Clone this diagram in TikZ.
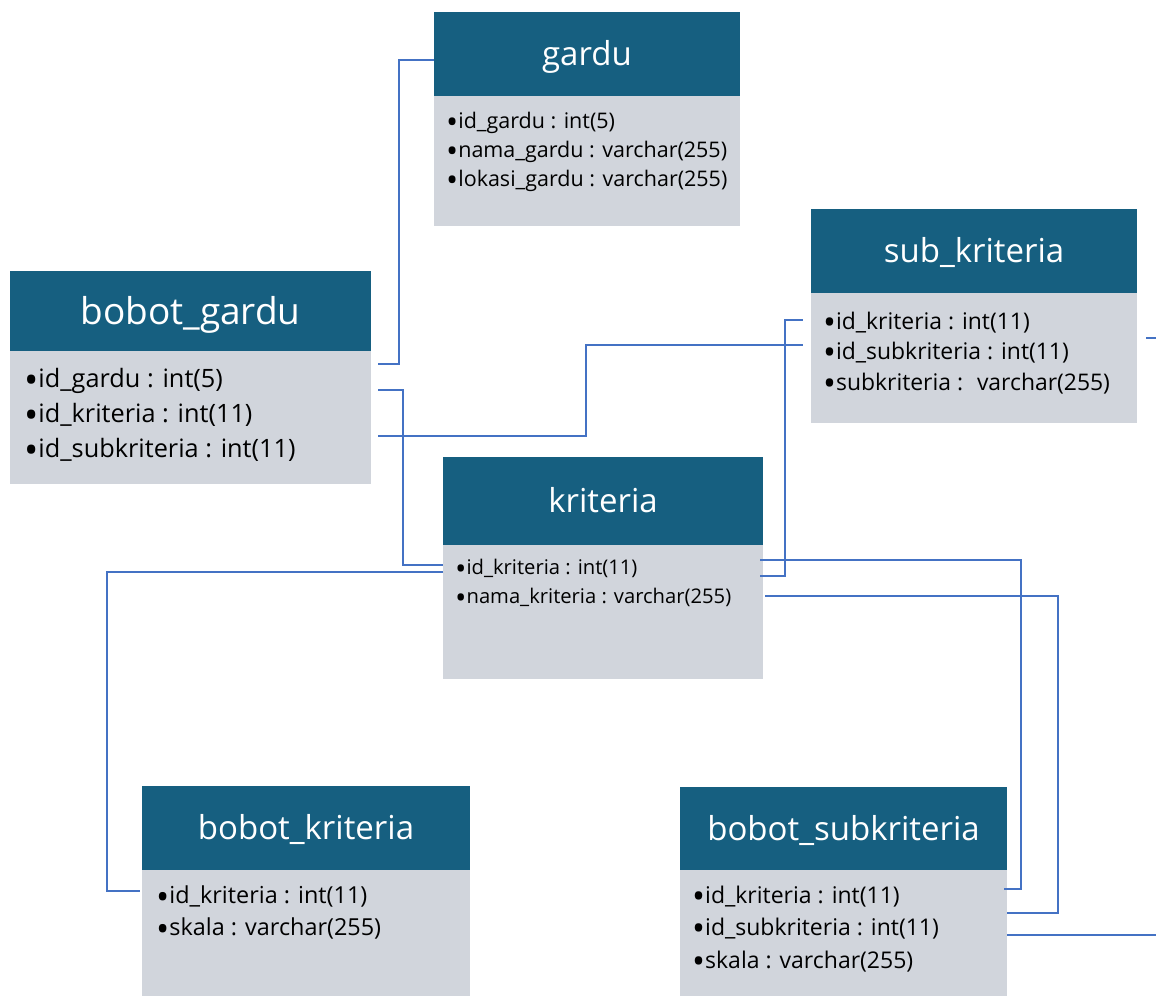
\documentclass[tikz,border=0pt]{standalone}
\usepackage{fontspec}
\setmainfont{Open Sans}
\usetikzlibrary{positioning}

\definecolor{headblue}{HTML}{165F80}
\definecolor{bodygray}{HTML}{D1D5DC}
\definecolor{linkblue}{HTML}{4472C4}

% a heavier list bullet
\newcommand{\fbul}{\smash{\raisebox{-0.24em}{\scalebox{1.5}{•}}}}

\tikzset{
  tblhead/.style={fill=headblue, text=white, inner sep=0pt, text height=30pt, text depth=7pt,
    font=\fontsize{33}{36}\selectfont},
  tblbody/.style={fill=bodygray, inner sep=0pt},
  field/.style={anchor=west, inner sep=0pt, text=black, yshift=-2.5pt},
  link/.style={draw=linkblue, line width=1.3pt},
}

\begin{document}
\begin{tikzpicture}[x=1pt, y=-1pt]
  \useasboundingbox (0,0) rectangle (1156,996);

  % gardu
  \node[tblhead, minimum width=306pt, minimum height=84pt] (gardu) at (587,54) {gardu};
  \node[tblbody, minimum width=306pt, minimum height=130pt, below=0pt of gardu] (gardu-body) {};
  \node[field, font=\fontsize{21.5}{24}\selectfont] (gardu-f1) at (446,120) {\fbul id\_gardu : int(5)};
  \node[field, font=\fontsize{21.5}{24}\selectfont] (gardu-f2) at (446,149) {\fbul nama\_gardu : varchar(255)};
  \node[field, font=\fontsize{21.5}{24}\selectfont] (gardu-f3) at (446,178) {\fbul lokasi\_gardu : varchar(255)};

  % sub_kriteria
  \node[tblhead, minimum width=326pt, minimum height=84pt] (subkrit) at (974,251) {sub\_kriteria};
  \node[tblbody, minimum width=326pt, minimum height=130pt, below=0pt of subkrit] (subkrit-body) {};
  \node[field, font=\fontsize{22.9}{26}\selectfont] (subkrit-f1) at (823,320) {\fbul id\_kriteria : int(11)};
  \node[field, font=\fontsize{22.9}{26}\selectfont] (subkrit-f2) at (823,350) {\fbul id\_subkriteria : int(11)};
  \node[field, font=\fontsize{22.9}{26}\selectfont] (subkrit-f3) at (823,381) {\fbul subkriteria : \ varchar(255)};

  % bobot_gardu
  \node[tblhead, font=\fontsize{37}{40}\selectfont, text height=34pt, text depth=7pt,
    minimum width=361pt, minimum height=80pt] (bgardu) at (190.5,311) {bobot\_gardu};
  \node[tblbody, minimum width=361pt, minimum height=133pt, below=0pt of bgardu] (bgardu-body) {};
  \node[field, font=\fontsize{25.3}{28}\selectfont] (bgardu-f1) at (24,378) {\fbul id\_gardu : int(5)};
  \node[field, font=\fontsize{25.3}{28}\selectfont] (bgardu-f2) at (24,412) {\fbul id\_kriteria : int(11)};
  \node[field, font=\fontsize{25.3}{28}\selectfont] (bgardu-f3) at (24,447) {\fbul id\_subkriteria : int(11)};

  % kriteria
  \node[tblhead, minimum width=320pt, minimum height=88pt] (krit) at (603,501) {kriteria};
  \node[tblbody, minimum width=320pt, minimum height=134pt, below=0pt of krit] (krit-body) {};
  \node[field, font=\fontsize{20.2}{23}\selectfont] (krit-f1) at (455,566) {\fbul id\_kriteria : int(11)};
  \node[field, font=\fontsize{20.2}{23}\selectfont] (krit-f2) at (455,595) {\fbul nama\_kriteria : varchar(255)};

  % bobot_kriteria
  \node[tblhead, minimum width=328pt, minimum height=84pt] (bkrit) at (306,828) {bobot\_kriteria};
  \node[tblbody, minimum width=328pt, minimum height=126pt, below=0pt of bkrit] (bkrit-body) {};
  \node[field, font=\fontsize{23.4}{26}\selectfont] (bkrit-f1) at (156,894) {\fbul id\_kriteria : int(11)};
  \node[field, font=\fontsize{23.4}{26}\selectfont] (bkrit-f2) at (156,926) {\fbul skala : varchar(255)};

  % bobot_subkriteria
  \node[tblhead, minimum width=327pt, minimum height=83pt] (bsub) at (843.5,828.5) {bobot\_subkriteria};
  \node[tblbody, minimum width=327pt, minimum height=126pt, below=0pt of bsub] (bsub-body) {};
  \node[field, font=\fontsize{23}{26}\selectfont] (bsub-f1) at (692,894) {\fbul id\_kriteria : int(11)};
  \node[field, font=\fontsize{23}{26}\selectfont] (bsub-f2) at (692,926) {\fbul id\_subkriteria : int(11)};
  \node[field, font=\fontsize{23}{26}\selectfont] (bsub-f3) at (692,959) {\fbul skala : varchar(255)};

  % ends of the relation lines
  \coordinate (gardu-in) at (434,60);
  \coordinate (bgardu-out1) at (378,364);
  \coordinate (bgardu-out2) at (378,390);
  \coordinate (bgardu-out3) at (378,436);
  \coordinate (krit-inL1) at (443,565);
  \coordinate (krit-inL2) at (443,572);
  \coordinate (krit-outR1) at (760,560);
  \coordinate (krit-outR2) at (760,576);
  \coordinate (krit-outR3) at (765,596);
  \coordinate (subkrit-in1) at (803,320);
  \coordinate (subkrit-in2) at (803,345);
  \coordinate (subkrit-out) at (1146,338);
  \coordinate (bkrit-in) at (140,891);
  \coordinate (bsub-in1) at (1004,889);
  \coordinate (bsub-in2) at (1007,913);
  \coordinate (bsub-out) at (1007,935);
  \coordinate (edge-top) at (1156,338);
  \coordinate (edge-bottom) at (1156,935);

  % relations
  \draw[link] (bgardu-out1) -- (399,364) -- (399,60) -- (gardu-in);
  \draw[link] (bgardu-out2) -- (403,390) -- (403,565) -- (krit-inL1);
  \draw[link] (bgardu-out3) -- (586,436) -- (586,345) -- (subkrit-in2);
  \draw[link] (krit-outR2) -- (785,576) -- (785,320) -- (subkrit-in1);
  \draw[link] (krit-outR1) -- (1021,560) -- (1021,889) -- (bsub-in1);
  \draw[link] (krit-outR3) -- (1058,596) -- (1058,913) -- (bsub-in2);
  \draw[link] (krit-inL2) -- (107,572) -- (107,891) -- (bkrit-in);
  \draw[link] (bsub-out) -- (edge-bottom);
  \draw[link] (subkrit-out) -- (edge-top);
\end{tikzpicture}
\end{document}
